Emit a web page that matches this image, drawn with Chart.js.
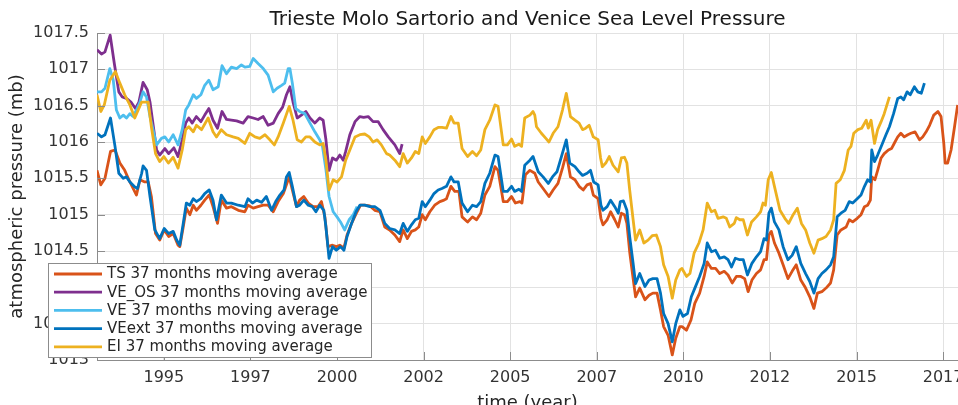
<!DOCTYPE html>
<html>
<head>
<meta charset="utf-8">
<script src="https://cdn.jsdelivr.net/npm/chart.js"></script>
<style>
  html, body { margin: 0; padding: 0; background: #ffffff; overflow: hidden; }
  #wrap { position: relative; width: 1000px; height: 420px; }
</style>
</head>
<body>
<div id="wrap"><canvas id="slp" width="1000" height="420"></canvas></div>
<script>
// Axis ticks (decimal years) and their printed labels
const yearTicks = [1995, 1997.5, 2000, 2002.5, 2005, 2007.5, 2010, 2012.5, 2015, 2017.5];
const yearTickLabels = ['1995', '1997', '2000', '2002', '2005', '2007', '2010', '2012', '2015', '2017'];
const pressureTicks = [1013, 1013.5, 1014, 1014.5, 1015, 1015.5, 1016, 1016.5, 1017, 1017.5];

const seriesNames = [
  'TS 37 months moving average',
  'VE_OS 37 months moving average',
  'VE 37 months moving average',
  'VEext 37 months moving average',
  'EI 37 months moving average'
];

// [decimal year, pressure in mb]
const tsSeries = [
  [1993.07,1015.61],[1993.18,1015.41],[1993.30,1015.50],[1993.46,1015.87],[1993.59,1015.89],[1993.73,1015.71],[1993.87,1015.61],[1994.02,1015.45],[1994.21,1015.27],[1994.31,1015.48],[1994.45,1015.45],[1994.55,1015.45],[1994.64,1015.25],[1994.76,1014.74],[1994.88,1014.65],[1995.01,1014.79],[1995.14,1014.70],[1995.27,1014.74],[1995.41,1014.58],[1995.46,1014.56],[1995.56,1014.83],[1995.65,1015.09],[1995.75,1015.00],[1995.85,1015.13],[1995.94,1015.06],[1996.07,1015.13],[1996.18,1015.20],[1996.31,1015.27],[1996.42,1015.11],[1996.55,1014.88],[1996.66,1015.20],[1996.81,1015.09],[1996.95,1015.11],[1997.15,1015.06],[1997.34,1015.04],
  [1997.43,1015.13],[1997.58,1015.09],[1997.72,1015.11],[1997.87,1015.13],[1998.01,1015.13],[1998.16,1015.04],[1998.30,1015.18],[1998.45,1015.29],[1998.62,1015.52],[1998.71,1015.34],[1998.83,1015.11],[1998.92,1015.20],[1999.04,1015.25],[1999.17,1015.16],[1999.31,1015.11],[1999.45,1015.11],[1999.55,1015.18],[1999.65,1014.97],[1999.74,1014.56],[1999.87,1014.58],[1999.98,1014.56],[2000.08,1014.58],[2000.20,1014.54],[2000.29,1014.72],[2000.42,1014.88],[2000.56,1015.02],[2000.68,1015.13],[2000.80,1015.13],[2000.95,1015.12],[2001.09,1015.06],[2001.24,1015.04],[2001.38,1014.83],[2001.52,1014.79],
  [2001.67,1014.72],[2001.81,1014.63],[2001.91,1014.79],[2002.03,1014.67],[2002.15,1014.77],[2002.26,1014.79],[2002.36,1014.83],[2002.46,1015.00],[2002.55,1014.93],[2002.68,1015.04],[2002.82,1015.13],[2002.97,1015.18],[2003.09,1015.20],[2003.16,1015.22],[2003.29,1015.39],[2003.40,1015.32],[2003.52,1015.32],[2003.61,1014.97],[2003.77,1014.90],[2003.91,1014.97],[2004.03,1014.93],[2004.15,1015.02],[2004.27,1015.27],[2004.41,1015.39],[2004.56,1015.66],[2004.65,1015.61],[2004.80,1015.18],[2004.92,1015.18],[2005.04,1015.25],[2005.15,1015.16],[2005.28,1015.18],[2005.34,1015.16],[2005.44,1015.55],[2005.57,1015.61],[2005.71,1015.57],
  [2005.81,1015.45],[2005.95,1015.36],[2006.12,1015.25],[2006.24,1015.34],[2006.38,1015.43],[2006.51,1015.64],[2006.62,1015.84],[2006.74,1015.52],[2006.87,1015.48],[2006.99,1015.39],[2007.11,1015.34],[2007.22,1015.41],[2007.32,1015.43],[2007.40,1015.27],[2007.54,1015.22],[2007.62,1014.95],[2007.68,1014.86],[2007.80,1014.93],[2007.90,1015.04],[2008.02,1014.93],[2008.12,1014.83],[2008.21,1015.02],[2008.30,1015.00],[2008.37,1014.88],[2008.45,1014.49],[2008.55,1014.12],[2008.62,1013.87],[2008.74,1013.99],[2008.89,1013.83],[2009.01,1013.89],[2009.12,1013.92],[2009.24,1013.92],[2009.34,1013.69],[2009.43,1013.46],[2009.56,1013.34],[2009.68,1013.07],[2009.78,1013.30],[2009.90,1013.46],
  [2009.96,1013.46],[2010.09,1013.41],[2010.22,1013.55],[2010.33,1013.78],[2010.47,1013.92],[2010.60,1014.15],[2010.69,1014.35],[2010.81,1014.26],[2010.93,1014.26],[2011.05,1014.19],[2011.18,1014.22],[2011.29,1014.17],[2011.41,1014.06],[2011.53,1014.15],[2011.66,1014.15],[2011.77,1014.12],[2011.87,1013.94],[2011.98,1014.10],[2012.11,1014.19],[2012.23,1014.24],[2012.33,1014.38],[2012.40,1014.38],[2012.47,1014.72],[2012.54,1014.77],[2012.63,1014.61],[2012.76,1014.47],[2012.88,1014.31],[2013.02,1014.12],[2013.14,1014.22],[2013.26,1014.31],[2013.39,1014.10],[2013.53,1013.99],[2013.65,1013.87],[2013.77,1013.71],[2013.87,1013.92],
  [2014.00,1013.94],[2014.12,1013.99],[2014.25,1014.06],[2014.34,1014.24],[2014.44,1014.72],[2014.55,1014.79],[2014.70,1014.83],[2014.79,1014.93],[2014.89,1014.90],[2015.02,1014.95],[2015.13,1015.00],[2015.23,1015.11],[2015.32,1015.13],[2015.40,1015.20],[2015.44,1015.52],[2015.53,1015.48],[2015.61,1015.61],[2015.71,1015.78],[2015.80,1015.84],[2015.92,1015.89],[2016.01,1015.91],[2016.11,1016.00],[2016.19,1016.07],[2016.28,1016.12],[2016.38,1016.07],[2016.48,1016.10],[2016.57,1016.12],[2016.69,1016.14],[2016.82,1016.03],[2016.91,1016.07],[2017.01,1016.14],[2017.11,1016.23],[2017.23,1016.37],[2017.35,1016.42],[2017.44,1016.35],[2017.52,1015.98],[2017.56,1015.71],[2017.63,1015.71],[2017.73,1015.89],[2017.83,1016.21],[2017.92,1016.51]
];

const veOsSeries = [
  [1993.07,1017.27],[1993.20,1017.21],[1993.30,1017.24],[1993.45,1017.47],[1993.57,1017.08],[1993.70,1016.69],[1993.80,1016.62],[1993.92,1016.60],[1994.05,1016.55],[1994.18,1016.46],[1994.28,1016.55],[1994.40,1016.82],[1994.52,1016.72],[1994.60,1016.55],[1994.79,1015.89],[1994.88,1015.82],[1995.03,1015.91],[1995.14,1015.84],[1995.29,1015.92],[1995.41,1015.80],[1995.53,1016.03],[1995.63,1016.26],[1995.72,1016.33],[1995.82,1016.26],[1995.94,1016.35],[1996.07,1016.28],[1996.18,1016.37],[1996.30,1016.46],[1996.42,1016.30],[1996.55,1016.19],[1996.68,1016.42],[1996.81,1016.31],[1996.95,1016.30],[1997.10,1016.29],[1997.29,1016.26],
  [1997.43,1016.35],[1997.58,1016.33],[1997.72,1016.31],[1997.87,1016.35],[1998.01,1016.23],[1998.16,1016.26],[1998.30,1016.39],[1998.43,1016.48],[1998.54,1016.65],[1998.64,1016.76],[1998.73,1016.55],[1998.85,1016.33],[1998.97,1016.37],[1999.10,1016.42],[1999.22,1016.33],[1999.36,1016.26],[1999.50,1016.33],[1999.60,1016.30],[1999.68,1016.03],[1999.77,1015.61],[1999.87,1015.78],[1999.98,1015.75],[2000.08,1015.82],[2000.18,1015.75],[2000.25,1015.87],[2000.37,1016.10],[2000.52,1016.28],[2000.66,1016.35],[2000.77,1016.34],[2000.90,1016.35],[2001.04,1016.28],[2001.19,1016.28],[2001.33,1016.17],[2001.48,1016.07],[2001.67,1015.96],[2001.81,1015.84],[2001.88,1015.97]
];

const veSeries = [
  [1993.07,1016.69],[1993.20,1016.69],[1993.30,1016.74],[1993.44,1017.01],[1993.54,1016.85],[1993.63,1016.44],[1993.73,1016.33],[1993.83,1016.37],[1993.92,1016.33],[1994.02,1016.39],[1994.11,1016.35],[1994.21,1016.44],[1994.31,1016.55],[1994.40,1016.69],[1994.50,1016.62],[1994.60,1016.35],[1994.79,1015.96],[1994.93,1016.05],[1995.03,1016.07],[1995.14,1016.00],[1995.27,1016.10],[1995.41,1015.96],[1995.53,1016.17],[1995.63,1016.44],[1995.72,1016.51],[1995.85,1016.65],[1995.94,1016.60],[1996.07,1016.65],[1996.18,1016.78],[1996.30,1016.85],[1996.42,1016.72],[1996.57,1016.76],[1996.68,1017.05],[1996.81,1016.94],[1996.95,1017.03],[1997.10,1017.01],[1997.24,1017.06],[1997.34,1017.03],
  [1997.48,1017.04],[1997.58,1017.15],[1997.72,1017.08],[1997.87,1017.01],[1998.01,1016.92],[1998.16,1016.69],[1998.27,1016.74],[1998.40,1016.78],[1998.49,1016.81],[1998.59,1017.01],[1998.64,1017.01],[1998.71,1016.81],[1998.81,1016.46],[1998.92,1016.42],[1999.07,1016.39],[1999.22,1016.26],[1999.36,1016.14],[1999.50,1016.03],[1999.58,1015.94],[1999.68,1015.62],[1999.77,1015.25],[1999.89,1015.04],[2000.00,1014.97],[2000.10,1014.90],[2000.22,1014.79],[2000.35,1014.93],[2000.47,1015.00],[2000.58,1015.11]
];

const veExtSeries = [
  [1993.07,1016.12],[1993.20,1016.07],[1993.30,1016.10],[1993.46,1016.33],[1993.59,1015.94],[1993.70,1015.57],[1993.83,1015.50],[1993.92,1015.52],[1994.02,1015.45],[1994.14,1015.39],[1994.24,1015.36],[1994.36,1015.57],[1994.40,1015.67],[1994.50,1015.61],[1994.60,1015.25],[1994.74,1014.79],[1994.88,1014.67],[1995.01,1014.81],[1995.14,1014.74],[1995.27,1014.77],[1995.37,1014.65],[1995.46,1014.58],[1995.56,1014.88],[1995.65,1015.16],[1995.75,1015.13],[1995.85,1015.22],[1995.94,1015.18],[1996.07,1015.22],[1996.18,1015.29],[1996.31,1015.34],[1996.42,1015.20],[1996.52,1014.93],[1996.66,1015.27],[1996.81,1015.16],[1996.95,1015.16],[1997.15,1015.13],[1997.34,1015.11],
  [1997.43,1015.22],[1997.56,1015.16],[1997.68,1015.20],[1997.82,1015.17],[1997.96,1015.25],[1998.11,1015.06],[1998.23,1015.18],[1998.35,1015.27],[1998.47,1015.34],[1998.54,1015.52],[1998.62,1015.58],[1998.71,1015.39],[1998.83,1015.11],[1998.92,1015.13],[1999.04,1015.20],[1999.17,1015.13],[1999.29,1015.11],[1999.39,1015.04],[1999.50,1015.13],[1999.62,1015.06],[1999.68,1014.83],[1999.77,1014.40],[1999.87,1014.56],[1999.98,1014.51],[2000.10,1014.56],[2000.20,1014.51],[2000.29,1014.70],[2000.42,1014.88],[2000.55,1015.04],[2000.66,1015.13],[2000.80,1015.13],[2000.95,1015.11],[2001.09,1015.11],[2001.24,1015.06],[2001.38,1014.88],[2001.52,1014.81],
  [2001.67,1014.79],[2001.81,1014.74],[2001.91,1014.88],[2002.03,1014.77],[2002.15,1014.86],[2002.26,1014.93],[2002.36,1014.95],[2002.46,1015.18],[2002.55,1015.11],[2002.68,1015.20],[2002.80,1015.29],[2002.92,1015.34],[2003.03,1015.36],[2003.16,1015.39],[2003.29,1015.52],[2003.38,1015.45],[2003.50,1015.45],[2003.61,1015.16],[2003.77,1015.04],[2003.91,1015.13],[2004.03,1015.11],[2004.15,1015.18],[2004.27,1015.43],[2004.41,1015.57],[2004.56,1015.82],[2004.65,1015.80],[2004.80,1015.32],[2004.92,1015.32],[2005.04,1015.39],[2005.13,1015.32],[2005.25,1015.35],[2005.33,1015.32],[2005.42,1015.68],[2005.57,1015.75],[2005.66,1015.80],[2005.71,1015.73],
  [2005.81,1015.59],[2005.95,1015.52],[2006.10,1015.43],[2006.22,1015.52],[2006.35,1015.59],[2006.48,1015.80],[2006.62,1016.03],[2006.72,1015.71],[2006.87,1015.66],[2006.99,1015.59],[2007.09,1015.54],[2007.22,1015.57],[2007.32,1015.61],[2007.41,1015.45],[2007.54,1015.41],[2007.62,1015.13],[2007.68,1015.06],[2007.80,1015.11],[2007.90,1015.20],[2008.02,1015.11],[2008.12,1015.02],[2008.18,1015.18],[2008.27,1015.19],[2008.37,1015.06],[2008.45,1014.70],[2008.55,1014.33],[2008.62,1014.05],[2008.74,1014.19],[2008.89,1014.01],[2009.01,1014.10],[2009.12,1014.12],[2009.24,1014.12],[2009.34,1013.92],[2009.43,1013.64],[2009.56,1013.50],[2009.68,1013.25],[2009.78,1013.50],[2009.90,1013.69],
  [2009.99,1013.60],[2010.12,1013.64],[2010.23,1013.87],[2010.35,1014.01],[2010.47,1014.15],[2010.60,1014.33],[2010.69,1014.61],[2010.81,1014.49],[2010.93,1014.51],[2011.05,1014.40],[2011.18,1014.42],[2011.29,1014.38],[2011.39,1014.28],[2011.50,1014.40],[2011.63,1014.38],[2011.73,1014.38],[2011.85,1014.17],[2011.98,1014.33],[2012.11,1014.42],[2012.23,1014.49],[2012.33,1014.67],[2012.40,1014.65],[2012.47,1015.02],[2012.54,1015.09],[2012.63,1014.90],[2012.76,1014.79],[2012.88,1014.56],[2013.02,1014.38],[2013.14,1014.44],[2013.26,1014.56],[2013.39,1014.33],[2013.53,1014.19],[2013.65,1014.08],[2013.77,1013.92],[2013.89,1014.12],
  [2014.00,1014.19],[2014.12,1014.24],[2014.25,1014.31],[2014.34,1014.42],[2014.44,1014.97],[2014.55,1015.02],[2014.67,1015.06],[2014.79,1015.18],[2014.89,1015.16],[2015.02,1015.22],[2015.13,1015.27],[2015.23,1015.39],[2015.32,1015.48],[2015.40,1015.45],[2015.44,1015.89],[2015.52,1015.73],[2015.61,1015.82],[2015.73,1015.96],[2015.85,1016.10],[2015.95,1016.21],[2016.07,1016.39],[2016.19,1016.60],[2016.28,1016.62],[2016.36,1016.58],[2016.46,1016.69],[2016.55,1016.65],[2016.67,1016.76],[2016.77,1016.69],[2016.87,1016.67],[2016.96,1016.81]
];

const eiSeries = [
  [1993.07,1016.65],[1993.18,1016.42],[1993.28,1016.51],[1993.44,1016.85],[1993.60,1016.97],[1993.73,1016.81],[1993.87,1016.65],[1994.02,1016.51],[1994.16,1016.33],[1994.26,1016.44],[1994.36,1016.55],[1994.55,1016.55],[1994.64,1016.21],[1994.76,1015.84],[1994.88,1015.73],[1995.00,1015.80],[1995.13,1015.71],[1995.27,1015.79],[1995.41,1015.64],[1995.53,1015.89],[1995.63,1016.17],[1995.72,1016.21],[1995.85,1016.14],[1995.94,1016.23],[1996.09,1016.17],[1996.28,1016.33],[1996.42,1016.14],[1996.52,1016.07],[1996.66,1016.17],[1996.81,1016.10],[1997.00,1016.07],[1997.15,1016.05],[1997.34,1015.98],
  [1997.48,1016.12],[1997.63,1016.07],[1997.77,1016.05],[1997.92,1016.10],[1998.06,1016.03],[1998.19,1015.96],[1998.30,1016.07],[1998.45,1016.26],[1998.62,1016.49],[1998.73,1016.30],[1998.85,1016.03],[1998.97,1016.00],[1999.10,1016.07],[1999.22,1016.07],[1999.36,1016.00],[1999.50,1015.96],[1999.60,1015.98],[1999.68,1015.75],[1999.77,1015.34],[1999.89,1015.48],[2000.00,1015.45],[2000.13,1015.52],[2000.25,1015.75],[2000.37,1015.89],[2000.52,1016.07],[2000.66,1016.10],[2000.80,1016.11],[2000.93,1016.07],[2001.04,1016.00],[2001.16,1016.03],[2001.28,1015.96],[2001.43,1015.84],[2001.52,1015.82],
  [2001.67,1015.75],[2001.81,1015.66],[2001.91,1015.84],[2002.03,1015.71],[2002.15,1015.78],[2002.26,1015.87],[2002.36,1015.84],[2002.46,1016.07],[2002.55,1015.98],[2002.68,1016.07],[2002.80,1016.17],[2002.92,1016.20],[2003.03,1016.20],[2003.16,1016.19],[2003.29,1016.35],[2003.38,1016.26],[2003.50,1016.26],[2003.61,1015.91],[2003.77,1015.80],[2003.91,1015.87],[2004.03,1015.81],[2004.15,1015.89],[2004.27,1016.17],[2004.41,1016.30],[2004.56,1016.51],[2004.65,1016.49],[2004.80,1015.96],[2004.92,1015.96],[2005.04,1016.04],[2005.13,1015.94],[2005.25,1015.97],[2005.33,1015.94],[2005.42,1016.33],[2005.57,1016.37],[2005.66,1016.42],[2005.71,1016.37],
  [2005.76,1016.21],[2005.90,1016.12],[2006.03,1016.05],[2006.12,1016.00],[2006.24,1016.12],[2006.38,1016.21],[2006.51,1016.44],[2006.62,1016.67],[2006.74,1016.35],[2006.87,1016.30],[2006.99,1016.26],[2007.09,1016.17],[2007.18,1016.19],[2007.28,1016.23],[2007.40,1016.07],[2007.54,1016.03],[2007.61,1015.78],[2007.66,1015.66],[2007.76,1015.71],[2007.86,1015.80],[2007.97,1015.68],[2008.12,1015.59],[2008.21,1015.78],[2008.30,1015.79],[2008.37,1015.71],[2008.45,1015.34],[2008.55,1014.93],[2008.62,1014.65],[2008.74,1014.79],[2008.86,1014.61],[2008.98,1014.65],[2009.10,1014.71],[2009.22,1014.72],[2009.34,1014.56],[2009.43,1014.31],[2009.56,1014.15],[2009.68,1013.85],[2009.78,1014.10],[2009.90,1014.24],
  [2009.96,1014.26],[2010.09,1014.15],[2010.19,1014.19],[2010.31,1014.47],[2010.45,1014.61],[2010.57,1014.79],[2010.69,1015.16],[2010.81,1015.04],[2010.91,1015.06],[2011.00,1014.95],[2011.15,1014.97],[2011.24,1014.95],[2011.34,1014.83],[2011.47,1014.88],[2011.53,1014.96],[2011.63,1014.93],[2011.73,1014.93],[2011.85,1014.72],[2011.97,1014.90],[2012.11,1014.97],[2012.23,1015.04],[2012.30,1015.16],[2012.37,1015.13],[2012.45,1015.48],[2012.54,1015.58],[2012.63,1015.39],[2012.79,1015.06],[2012.93,1014.95],[2013.04,1014.88],[2013.17,1015.00],[2013.29,1015.09],[2013.41,1014.88],[2013.53,1014.79],[2013.65,1014.61],[2013.77,1014.47],[2013.89,1014.65],
  [2014.00,1014.67],[2014.12,1014.70],[2014.25,1014.79],[2014.34,1014.93],[2014.41,1015.43],[2014.53,1015.48],[2014.65,1015.61],[2014.76,1015.89],[2014.84,1015.94],[2014.92,1016.12],[2015.04,1016.17],[2015.15,1016.19],[2015.28,1016.30],[2015.34,1016.19],[2015.42,1016.30],[2015.52,1015.98],[2015.61,1016.17],[2015.71,1016.28],[2015.80,1016.39],[2015.95,1016.62]
];

const seriesColors = ['#D95319', '#7E2F8E', '#4DBEEE', '#0072BD', '#EDB120'];
const allSeries = [tsSeries, veOsSeries, veSeries, veExtSeries, eiSeries];

Chart.defaults.font.family = "'DejaVu Sans', sans-serif";

const datasets = allSeries.map((s, i) => ({
  label: seriesNames[i],
  data: s.map(p => ({ x: p[0], y: p[1] })),
  borderColor: seriesColors[i],
  backgroundColor: seriesColors[i],
  borderWidth: 2.8,
  pointRadius: 0,
  tension: 0,
  fill: false,
  borderJoinStyle: 'round',
  order: allSeries.length - i   // later series are drawn on top
}));

// Inward tick marks and the boxed legend in the lower-left corner
const frameAndLegend = {
  id: 'frameAndLegend',
  afterDraw(chart) {
    const { ctx, chartArea: a, scales: { x, y } } = chart;
    ctx.save();
    ctx.strokeStyle = '#8c8c8c';
    ctx.lineWidth = 1;
    ctx.beginPath();
    yearTicks.forEach(t => {
      const px = Math.round(x.getPixelForValue(t)) + 0.5;
      ctx.moveTo(px, a.bottom);
      ctx.lineTo(px, a.bottom - 8);
    });
    pressureTicks.forEach(v => {
      const py = Math.round(y.getPixelForValue(v)) + 0.5;
      ctx.moveTo(a.left, py);
      ctx.lineTo(a.left + 8, py);
    });
    ctx.stroke();

    const boxL = a.left - 49, boxR = a.left + 274;
    const boxB = a.bottom - 3, boxT = boxB - 94;
    ctx.fillStyle = '#ffffff';
    ctx.fillRect(boxL, boxT, boxR - boxL, boxB - boxT);
    ctx.strokeStyle = '#8c8c8c';
    ctx.strokeRect(boxL + 0.5, boxT + 0.5, boxR - boxL, boxB - boxT);

    ctx.font = "15px 'DejaVu Sans'";
    ctx.textBaseline = 'middle';
    ctx.textAlign = 'left';
    chart.data.datasets.forEach((ds, i) => {
      const rowY = boxT + 11 + i * 18.2;
      ctx.strokeStyle = ds.borderColor;
      ctx.lineWidth = 2.8;
      ctx.beginPath();
      ctx.moveTo(boxL + 6, rowY);
      ctx.lineTo(boxL + 54, rowY);
      ctx.stroke();
      ctx.fillStyle = '#262626';
      ctx.fillText(ds.label, boxL + 59, rowY + 0.5);
    });
    ctx.restore();
  }
};

new Chart(document.getElementById('slp'), {
  type: 'line',
  data: { datasets },
  options: {
    responsive: false,
    animation: false,
    devicePixelRatio: 1,
    layout: { padding: { left: 0, right: 42, top: 0, bottom: 0 } },
    plugins: {
      legend: { display: false },
      tooltip: { enabled: false },
      title: {
        display: true,
        text: 'Trieste Molo Sartorio and Venice Sea Level Pressure',
        fullSize: false,
        color: '#1a1a1a',
        font: { size: 20, weight: 'normal' },
        padding: { top: 8, bottom: 1 }
      }
    },
    scales: {
      x: {
        type: 'linear',
        min: 1993.07,
        max: 2017.93,
        afterFit(scale) { scale.height = 60; },
        afterBuildTicks(scale) { scale.ticks = yearTicks.map(v => ({ value: v })); },
        ticks: {
          autoSkip: false,
          maxRotation: 0,
          padding: 8,
          color: '#333333',
          font: { size: 16 },
          callback: (v, i) => yearTickLabels[i]
        },
        grid: { color: '#e2e2e2', lineWidth: 1, drawTicks: false },
        border: { display: true, color: '#8c8c8c', width: 1 },
        title: {
          display: true,
          text: 'time (year)',
          color: '#262626',
          font: { size: 18 },
          padding: { top: 0, bottom: 6 }
        }
      },
      y: {
        type: 'linear',
        min: 1013,
        max: 1017.5,
        afterFit(scale) { scale.width = 97; },
        afterBuildTicks(scale) { scale.ticks = pressureTicks.map(v => ({ value: v })); },
        ticks: {
          padding: 8,
          color: '#333333',
          font: { size: 16 },
          callback: v => String(v)
        },
        grid: { color: '#e2e2e2', lineWidth: 1, drawTicks: false },
        border: { display: true, color: '#8c8c8c', width: 1 },
        title: {
          display: true,
          text: 'atmospheric pressure (mb)',
          color: '#262626',
          font: { size: 18 },
          padding: { top: 7, bottom: 0 }
        }
      }
    }
  },
  plugins: [frameAndLegend]
});
</script>
</body>
</html>
